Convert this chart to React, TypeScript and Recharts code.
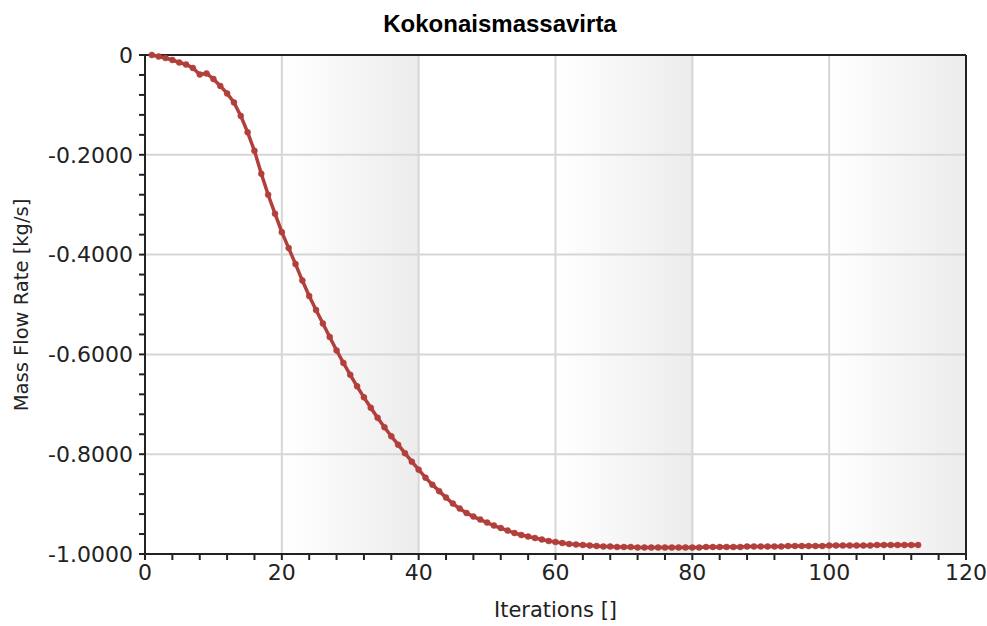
import React from "react";
import {
  LineChart, Line, XAxis, YAxis, ReferenceArea, ReferenceLine,
} from "recharts";

// Kokonaismassavirta per iteration (kg/s)
const massFlow = [
  0, -0.003, -0.006, -0.010, -0.015, -0.019, -0.026, -0.039, -0.037, -0.048,
  -0.062, -0.077, -0.095, -0.122, -0.155, -0.192, -0.238, -0.280, -0.318, -0.355,
  -0.387, -0.419, -0.452, -0.483, -0.511, -0.538, -0.565, -0.592, -0.617, -0.641,
  -0.664, -0.686, -0.707, -0.727, -0.746, -0.764, -0.781, -0.798, -0.815, -0.831,
  -0.847, -0.861, -0.874, -0.887, -0.899, -0.909, -0.918, -0.925, -0.931, -0.937,
  -0.943, -0.948, -0.953, -0.958, -0.962, -0.965, -0.968, -0.971, -0.974, -0.976,
  -0.978, -0.980, -0.981, -0.982, -0.983, -0.984, -0.985, -0.985, -0.986, -0.986,
  -0.986, -0.987, -0.987, -0.987, -0.987, -0.987, -0.987, -0.987, -0.987, -0.987,
  -0.987, -0.986, -0.986, -0.986, -0.986, -0.986, -0.986, -0.985, -0.985, -0.985,
  -0.985, -0.985, -0.985, -0.984, -0.984, -0.984, -0.984, -0.984, -0.984, -0.983,
  -0.983, -0.983, -0.983, -0.983, -0.983, -0.983, -0.982, -0.982, -0.982, -0.982,
  -0.982, -0.982, -0.982,
];

const xMajorTicks = [0, 20, 40, 60, 80, 100, 120];
const yMajorTicks = [0, -0.2, -0.4, -0.6, -0.8, -1];
const shadedBands = [[20, 40], [60, 80], [100, 120]];

// minor ticks: 4 between each labelled one
const xTicks: number[] = [];
for (let v = 0; v <= 120; v += 4) xTicks.push(v);
const yTicks: number[] = [];
for (let i = 0; i <= 25; i++) yTicks.push(-i * 0.04);

const data = massFlow.map((v, i) => ({ iter: i + 1, value: v }));

const LINE = "#b13f3b";
const FONT = "'DejaVu Sans', sans-serif";

const isMajor = (v: number, step: number) =>
  Math.abs(v / step - Math.round(v / step)) < 1e-6;

const fmtX = (v: number) => (isMajor(v, 20) ? String(v) : "");
const fmtY = (v: number) => {
  if (!isMajor(v, 0.2)) return "";
  if (Math.abs(v) < 1e-9) return "0";
  return v.toFixed(4);
};

export default function App() {
  return (
    <div style={{ position: "relative", width: 987, height: 626, background: "#fff" }}>
      <style>{"body{margin:0}"}</style>
      <div
        style={{
          position: "absolute", left: 0, width: 1000, top: 12, textAlign: "center",
          fontFamily: "'Liberation Sans', Arial, sans-serif", fontWeight: "bold",
          fontSize: 24, lineHeight: "24px", color: "#000",
        }}
      >
        Kokonaismassavirta
      </div>
      <LineChart
        width={987}
        height={626}
        data={data}
        margin={{ top: 55, right: 21, left: 0, bottom: 0 }}
      >
        <defs>
          <linearGradient id="band" x1="0" y1="0" x2="1" y2="0">
            <stop offset="0%" stopColor="#ffffff" />
            <stop offset="100%" stopColor="#ececec" />
          </linearGradient>
        </defs>
        <XAxis
          dataKey="iter"
          type="number"
          domain={[0, 120]}
          ticks={xTicks}
          interval={0}
          tickFormatter={fmtX}
          height={72}
          tickSize={6}
          tickMargin={4}
          axisLine={{ stroke: "#222", strokeWidth: 2 }}
          tickLine={{ stroke: "#222", strokeWidth: 2 }}
          tick={{ fontSize: 22, fontFamily: FONT, fill: "#222" }}
        />
        <YAxis
          type="number"
          domain={[-1, 0]}
          ticks={yTicks}
          interval={0}
          tickFormatter={fmtY}
          width={145}
          tickSize={6}
          tickMargin={6}
          axisLine={{ stroke: "#222", strokeWidth: 2 }}
          tickLine={{ stroke: "#222", strokeWidth: 2 }}
          tick={{ fontSize: 22, fontFamily: FONT, fill: "#222" }}
        />
        {shadedBands.map(([a, b]) => (
          <ReferenceArea key={a} x1={a} x2={b} y1={-1} y2={0} fill="url(#band)" fillOpacity={1} stroke="none" />
        ))}
        {xMajorTicks.slice(1, -1).map((v) => (
          <ReferenceLine key={"x" + v} x={v} stroke="#d6d6d6" strokeWidth={2} />
        ))}
        {yMajorTicks.slice(1, -1).map((v) => (
          <ReferenceLine key={"y" + v} y={v} stroke="#d6d6d6" strokeWidth={2} />
        ))}
        <ReferenceLine y={0} stroke="#222" strokeWidth={2} />
        <ReferenceLine x={120} stroke="#222" strokeWidth={2} />
        <Line
          dataKey="value"
          stroke={LINE}
          strokeWidth={3.5}
          dot={{ r: 3, fill: LINE, stroke: LINE, strokeWidth: 0.5 }}
          activeDot={false}
          isAnimationActive={false}
        />
      </LineChart>
      <div
        style={{
          position: "absolute", left: 145, width: 821, top: 598, textAlign: "center",
          fontFamily: FONT, fontSize: 21, lineHeight: "24px", color: "#222",
        }}
      >
        Iterations []
      </div>
      <div
        style={{
          position: "absolute", left: 22, top: 305, width: 400, marginLeft: -200,
          marginTop: -12, textAlign: "center", transform: "rotate(-90deg)",
          fontFamily: FONT, fontSize: 19.5, lineHeight: "24px", color: "#222",
        }}
      >
        Mass Flow Rate [kg/s]
      </div>
    </div>
  );
}
